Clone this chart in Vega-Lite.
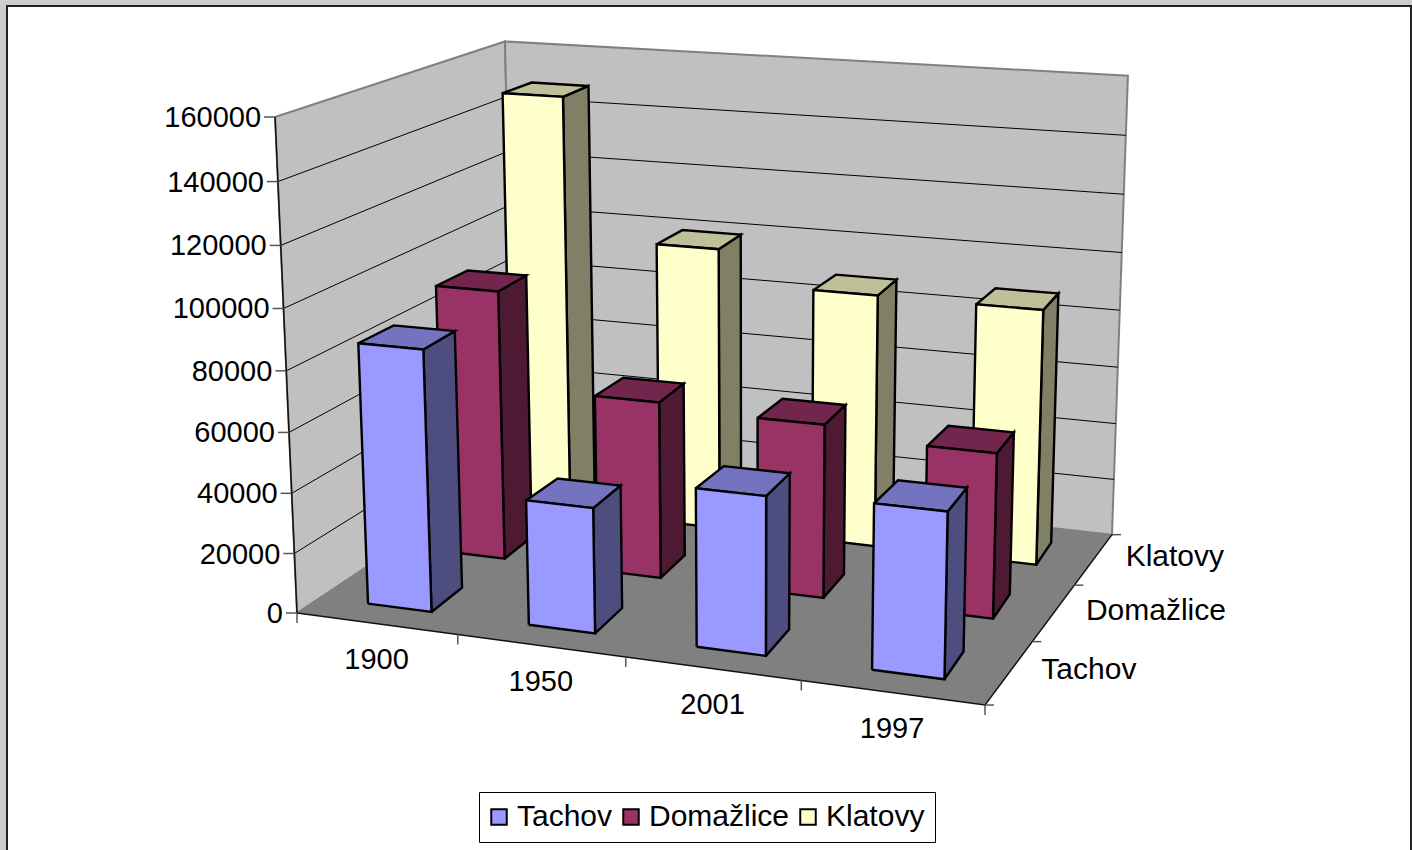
{"$schema":"https://vega.github.io/schema/vega-lite/v6.json","width":1404,"height":850,"autosize":{"type":"none"},"padding":{"left":7,"top":6,"right":1,"bottom":0},"background":"#cdcdcd","config":{"view":{"fill":"white","stroke":"#222222","strokeWidth":2},"font":"Liberation Sans"},
"encoding":{"x":{"field":"px","type":"quantitative","axis":null,"scale":{"domain":[7,1411],"nice":false,"zero":false}},"y":{"field":"py","type":"quantitative","axis":null,"scale":{"domain":[856,6],"nice":false,"zero":false}}},
"layer":[
{"data":{"values":[
{"plane":"left","corner":0,"u":0,"v":0,"h":0},{"plane":"left","corner":1,"u":0,"v":1,"h":0},{"plane":"left","corner":2,"u":0,"v":1,"h":1},{"plane":"left","corner":3,"u":0,"v":0,"h":1},{"plane":"left","corner":4,"u":0,"v":0,"h":0},
{"plane":"back","corner":0,"u":0,"v":1,"h":0},{"plane":"back","corner":1,"u":1,"v":1,"h":0},{"plane":"back","corner":2,"u":1,"v":1,"h":1},{"plane":"back","corner":3,"u":0,"v":1,"h":1},{"plane":"back","corner":4,"u":0,"v":1,"h":0}]},
"transform":[{"calculate":"(604.3*datum.u+305.2*datum.v-34.6*datum.h+297)/(1-0.085*datum.u+0.17*datum.v-0.046*datum.h)","as":"px"},{"calculate":"(32.1*datum.u-65*datum.v-501.4*datum.h+613)/(1-0.085*datum.u+0.17*datum.v-0.046*datum.h)","as":"py"}],
"mark":{"type":"line","fill":"#c0c0c0","stroke":"#808080","strokeWidth":2,"strokeJoin":"miter"},"encoding":{"detail":{"field":"plane"},"order":{"field":"corner"}}},
{"data":{"values":[{"corner":0,"u":0,"v":0,"h":0},{"corner":1,"u":1,"v":0,"h":0},{"corner":2,"u":1,"v":1,"h":0},{"corner":3,"u":0,"v":1,"h":0},{"corner":4,"u":0,"v":0,"h":0}]},
"transform":[{"calculate":"(604.3*datum.u+305.2*datum.v-34.6*datum.h+297)/(1-0.085*datum.u+0.17*datum.v-0.046*datum.h)","as":"px"},{"calculate":"(32.1*datum.u-65*datum.v-501.4*datum.h+613)/(1-0.085*datum.u+0.17*datum.v-0.046*datum.h)","as":"py"}],
"mark":{"type":"line","fill":"#808080","stroke":null,"strokeWidth":0},"encoding":{"order":{"field":"corner"}}},
{"data":{"values":[{"value":20000},{"value":40000},{"value":60000},{"value":80000},{"value":100000},{"value":120000},{"value":140000}]},
"transform":[{"calculate":"[0,1,2]","as":"corner"},{"flatten":["corner"]},{"calculate":"datum.corner==2?1:0","as":"u"},{"calculate":"datum.corner==0?0:1","as":"v"},{"calculate":"datum.value/160000","as":"h"},{"calculate":"(604.3*datum.u+305.2*datum.v-34.6*datum.h+297)/(1-0.085*datum.u+0.17*datum.v-0.046*datum.h)","as":"px"},{"calculate":"(32.1*datum.u-65*datum.v-501.4*datum.h+613)/(1-0.085*datum.u+0.17*datum.v-0.046*datum.h)","as":"py"}],
"mark":{"type":"line","stroke":"#000000","strokeWidth":1},"encoding":{"detail":{"field":"value"},"order":{"field":"corner"}}},
{"data":{"values":[{"edge":"value","corner":0,"u":0,"v":0,"h":0},{"edge":"value","corner":1,"u":0,"v":0,"h":1},{"edge":"floor","corner":0,"u":0,"v":0,"h":0},{"edge":"floor","corner":1,"u":1,"v":0,"h":0},{"edge":"floor","corner":2,"u":1,"v":1,"h":0}]},
"transform":[{"calculate":"(604.3*datum.u+305.2*datum.v-34.6*datum.h+297)/(1-0.085*datum.u+0.17*datum.v-0.046*datum.h)","as":"px"},{"calculate":"(32.1*datum.u-65*datum.v-501.4*datum.h+613)/(1-0.085*datum.u+0.17*datum.v-0.046*datum.h)","as":"py"}],
"mark":{"type":"line","stroke":"#111111","strokeWidth":1.5},"encoding":{"detail":{"field":"edge"},"order":{"field":"corner"}}},
{"data":{"values":[{"value":0},{"value":20000},{"value":40000},{"value":60000},{"value":80000},{"value":100000},{"value":120000},{"value":140000},{"value":160000}]},
"transform":[{"calculate":"0","as":"u"},{"calculate":"0","as":"v"},{"calculate":"datum.value/160000","as":"h"},{"calculate":"(604.3*datum.u+305.2*datum.v-34.6*datum.h+297)/(1-0.085*datum.u+0.17*datum.v-0.046*datum.h)","as":"px"},{"calculate":"(32.1*datum.u-65*datum.v-501.4*datum.h+613)/(1-0.085*datum.u+0.17*datum.v-0.046*datum.h)","as":"py"},{"calculate":"datum.px-11","as":"tx"}],
"layer":[{"mark":{"type":"rule","stroke":"#555555","strokeWidth":1.5},"encoding":{"x2":{"field":"tx"}}},{"mark":{"type":"text","align":"right","baseline":"middle","fontSize":29,"dx":-14,"dy":1,"color":"#000000"},"encoding":{"text":{"field":"value","type":"quantitative","format":"d"}}}]},
{"data":{"values":[{"u":0},{"u":0.25},{"u":0.5},{"u":0.75},{"u":1}]},
"transform":[{"calculate":"0","as":"v"},{"calculate":"0","as":"h"},{"calculate":"(604.3*datum.u+305.2*datum.v-34.6*datum.h+297)/(1-0.085*datum.u+0.17*datum.v-0.046*datum.h)","as":"px"},{"calculate":"(32.1*datum.u-65*datum.v-501.4*datum.h+613)/(1-0.085*datum.u+0.17*datum.v-0.046*datum.h)","as":"py"},{"calculate":"datum.py+10","as":"ty"}],
"mark":{"type":"rule","stroke":"#555555","strokeWidth":1.5},"encoding":{"y2":{"field":"ty"}}},
{"data":{"values":[{"v":0},{"v":0.3333},{"v":0.6667},{"v":1}]},
"transform":[{"calculate":"1","as":"u"},{"calculate":"0","as":"h"},{"calculate":"(604.3*datum.u+305.2*datum.v-34.6*datum.h+297)/(1-0.085*datum.u+0.17*datum.v-0.046*datum.h)","as":"px"},{"calculate":"(32.1*datum.u-65*datum.v-501.4*datum.h+613)/(1-0.085*datum.u+0.17*datum.v-0.046*datum.h)","as":"py"},{"calculate":"datum.px+9","as":"tx"}],
"mark":{"type":"rule","stroke":"#555555","strokeWidth":1.5},"encoding":{"x2":{"field":"tx"}}},
{"data":{"values":[{"year":"1900","u":0.125},{"year":"1950","u":0.375},{"year":"2001","u":0.625},{"year":"1997","u":0.875}]},
"transform":[{"calculate":"0","as":"v"},{"calculate":"0","as":"h"},{"calculate":"(604.3*datum.u+305.2*datum.v-34.6*datum.h+297)/(1-0.085*datum.u+0.17*datum.v-0.046*datum.h)","as":"px"},{"calculate":"(32.1*datum.u-65*datum.v-501.4*datum.h+613)/(1-0.085*datum.u+0.17*datum.v-0.046*datum.h)","as":"py"}],
"mark":{"type":"text","align":"center","baseline":"middle","fontSize":29,"dy":36,"color":"#000000"},"encoding":{"text":{"field":"year"}}},
{"data":{"values":[{"district":"Tachov","v":0.1667},{"district":"Domažlice","v":0.5},{"district":"Klatovy","v":0.8333}]},
"transform":[{"calculate":"1","as":"u"},{"calculate":"0","as":"h"},{"calculate":"(604.3*datum.u+305.2*datum.v-34.6*datum.h+297)/(1-0.085*datum.u+0.17*datum.v-0.046*datum.h)","as":"px"},{"calculate":"(32.1*datum.u-65*datum.v-501.4*datum.h+613)/(1-0.085*datum.u+0.17*datum.v-0.046*datum.h)","as":"py"}],
"mark":{"type":"text","align":"left","baseline":"middle","fontSize":30,"dx":32,"dy":-2,"color":"#000000"},"encoding":{"text":{"field":"district"}}},
{"data":{"values":[
{"district":"Klatovy","year":"1900","value":148500},{"district":"Klatovy","year":"1950","value":99550},{"district":"Klatovy","year":"2001","value":88070},{"district":"Klatovy","year":"1997","value":87900},
{"district":"Domažlice","year":"1900","value":92650},{"district":"Domažlice","year":"1950","value":60220},{"district":"Domažlice","year":"2001","value":58350},{"district":"Domažlice","year":"1997","value":54750},
{"district":"Tachov","year":"1900","value":86600},{"district":"Tachov","year":"1950","value":41100},{"district":"Tachov","year":"2001","value":51200},{"district":"Tachov","year":"1997","value":52660}]},
"transform":[
{"calculate":"(indexof(['1900','1950','2001','1997'],datum.year)+0.5)/4+0.001","as":"uc"},
{"calculate":"(indexof(['Tachov','Domažlice','Klatovy'],datum.district)+0.5)/3","as":"vc"},
{"calculate":"['side','top','front']","as":"face"},{"flatten":["face"]},
{"calculate":"[0,1,2,3,4]","as":"corner"},{"flatten":["corner"]},
{"calculate":"datum.uc+(datum.face=='side'?(datum.corner==1||datum.corner==2?0.046:0.05):(datum.face=='top'&&datum.corner==2?0.046:0.05*[-1,1,1,-1,-1][datum.corner]))","as":"u"},
{"calculate":"datum.vc+0.073*(datum.face=='front'?-1:datum.face=='side'?[-1,1,1,-1,-1][datum.corner]:[-1,-1,1,1,-1][datum.corner])","as":"v"},
{"calculate":"datum.value/160000*(datum.face=='top'?1:[0,0,1,1,0][datum.corner])","as":"h"},
{"calculate":"(604.3*datum.u+305.2*datum.v-34.6*datum.h+297)/(1-0.085*datum.u+0.17*datum.v-0.046*datum.h)","as":"px"},
{"calculate":"(32.1*datum.u-65*datum.v-501.4*datum.h+613)/(1-0.085*datum.u+0.17*datum.v-0.046*datum.h)","as":"py"},
{"calculate":"datum.face=='front'?datum.district:datum.district+' '+datum.face","as":"shade"},
{"calculate":"datum.district+datum.year+datum.face","as":"facekey"}],
"mark":{"type":"line","stroke":"#000000","strokeWidth":2.4,"strokeJoin":"miter"},
"encoding":{"detail":{"field":"facekey"},"order":{"field":"corner"},
"fill":{"field":"shade","type":"nominal","sort":null,"scale":{"domain":["Tachov","Domažlice","Klatovy","Tachov side","Domažlice side","Klatovy side","Tachov top","Domažlice top","Klatovy top"],"range":["#9999ff","#993366","#ffffcc","#4d4d80","#4d1933","#808066","#7373bf","#73264d","#bfbf99"]},
"legend":{"values":["Tachov","Domažlice","Klatovy"],"title":null,"orient":"none","legendX":472,"legendY":786,"direction":"horizontal","columns":3,"symbolType":"square","symbolSize":240,"symbolStrokeColor":"#000000","symbolStrokeWidth":2,"symbolOffset":-5,"labelFontSize":30,"labelColor":"#000000","labelOffset":3,"columnPadding":6,"padding":10,"fillColor":"#ffffff","strokeColor":"#000000","labelLimit":300}}}}
]}
